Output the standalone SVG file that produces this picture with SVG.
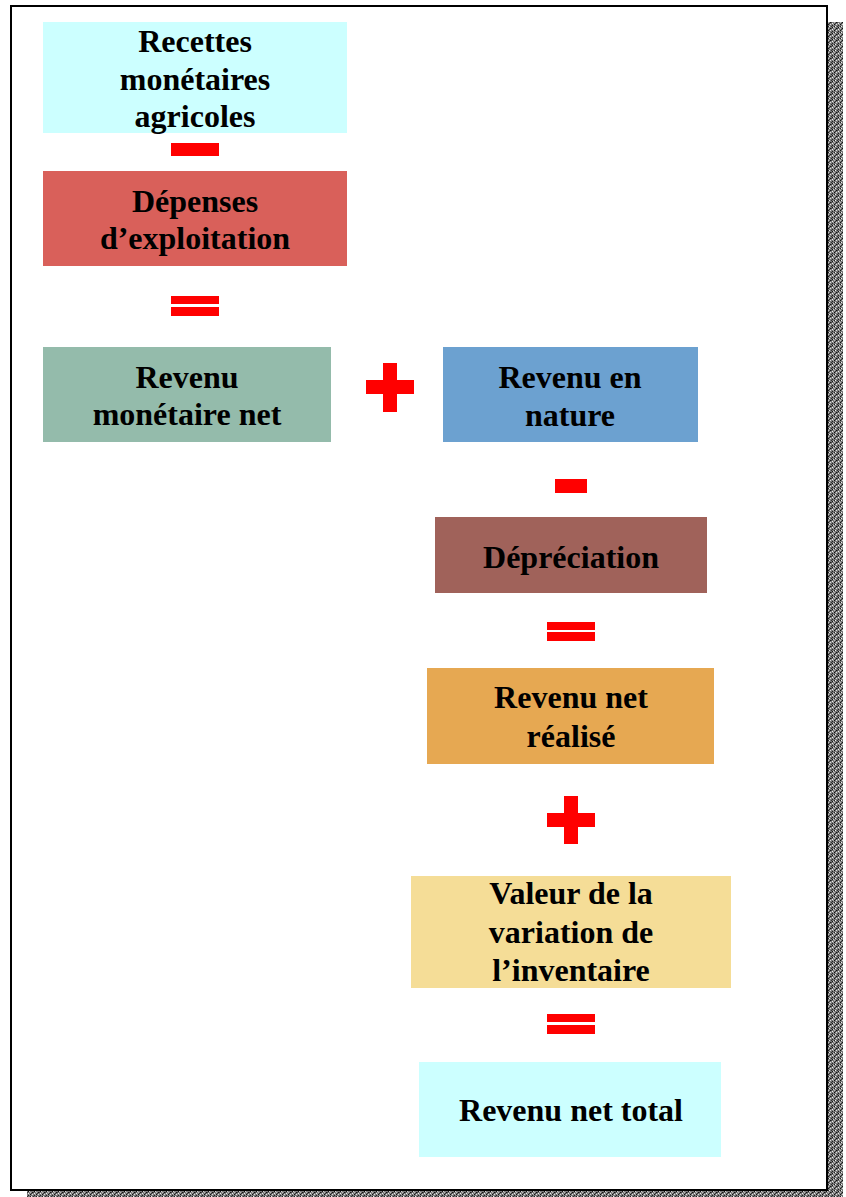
<svg xmlns="http://www.w3.org/2000/svg" width="846" height="1197" viewBox="0 0 846 1197">
<defs>
<pattern id="noise" width="6" height="6" patternUnits="userSpaceOnUse">
<rect width="6" height="6" fill="#7a7a7a"/>
<rect x="0" y="0" width="1" height="1" fill="#111"/>
<rect x="2" y="0" width="1" height="1" fill="#ddd"/>
<rect x="4" y="1" width="1" height="1" fill="#222"/>
<rect x="1" y="2" width="1" height="1" fill="#eee"/>
<rect x="3" y="2" width="1" height="1" fill="#333"/>
<rect x="5" y="3" width="1" height="1" fill="#ccc"/>
<rect x="0" y="4" width="1" height="1" fill="#bbb"/>
<rect x="2" y="4" width="1" height="1" fill="#111"/>
<rect x="4" y="5" width="1" height="1" fill="#eee"/>
<rect x="1" y="5" width="1" height="1" fill="#333"/>
<rect x="5" y="0" width="1" height="1" fill="#aaa"/>
<rect x="3" y="4" width="1" height="1" fill="#444"/>
<rect x="0" y="2" width="1" height="1" fill="#222"/>
<rect x="4" y="3" width="1" height="1" fill="#111"/>
</pattern>
</defs>
<style>
.t{font-family:"Liberation Serif","Times New Roman",serif;font-weight:bold;font-size:32px;fill:#000;text-anchor:middle}
.op{fill:#ff0000}
</style>
<rect width="846" height="1197" fill="#fff"/>
<g id="frame">
<rect x="827" y="22" width="16" height="1175" fill="url(#noise)"/>
<rect x="27" y="1190" width="816" height="7" fill="url(#noise)"/>
<rect x="11" y="6" width="816" height="1184" fill="#fff" stroke="#000" stroke-width="2"/>
</g>
<g id="n1"><rect x="43" y="22" width="304" height="111" fill="#ccffff"/>
<text class="t" x="195" y="52">Recettes</text><text class="t" x="195" y="90">monétaires</text><text class="t" x="195" y="127">agricoles</text></g>
<g id="n2"><rect x="43" y="171" width="304" height="95" fill="#d9605a"/>
<text class="t" x="195" y="212">Dépenses</text><text class="t" x="195" y="249">d’exploitation</text></g>
<g id="n3"><rect x="43" y="347" width="288" height="95" fill="#94bbab"/>
<text class="t" x="187" y="388">Revenu</text><text class="t" x="187" y="425">monétaire net</text></g>
<g id="n4"><rect x="443" y="347" width="255" height="95" fill="#6ca1d0"/>
<text class="t" x="570" y="388">Revenu en</text><text class="t" x="570" y="426">nature</text></g>
<g id="n5"><rect x="435" y="517" width="272" height="76" fill="#a0625a"/>
<text class="t" x="571" y="568">Dépréciation</text></g>
<g id="n6"><rect x="427" y="668" width="287" height="96" fill="#e6a852"/>
<text class="t" x="571" y="708">Revenu net</text><text class="t" x="571" y="747">réalisé</text></g>
<g id="n7"><rect x="411" y="876" width="320" height="112" fill="#f5dd97"/>
<text class="t" x="571" y="904">Valeur de la</text><text class="t" x="571" y="943">variation de</text><text class="t" x="571" y="981">l’inventaire</text></g>
<g id="n8"><rect x="419" y="1062" width="302" height="95" fill="#ccffff"/>
<text class="t" x="571" y="1121">Revenu net total</text></g>
<g id="connectors">
<rect class="op" x="171" y="143" width="48" height="13"/>
<rect class="op" x="171" y="296" width="48" height="8"/>
<rect class="op" x="171" y="307" width="48" height="9"/>
<rect class="op" x="366" y="380" width="48" height="14"/>
<rect class="op" x="383" y="363" width="14" height="49"/>
<rect class="op" x="555" y="479" width="32" height="14"/>
<rect class="op" x="547" y="622" width="48" height="8"/>
<rect class="op" x="547" y="632" width="48" height="9"/>
<rect class="op" x="547" y="813" width="48" height="14"/>
<rect class="op" x="564" y="796" width="14" height="48"/>
<rect class="op" x="547" y="1014" width="48" height="8"/>
<rect class="op" x="547" y="1025" width="48" height="9"/>
</g>
</svg>
